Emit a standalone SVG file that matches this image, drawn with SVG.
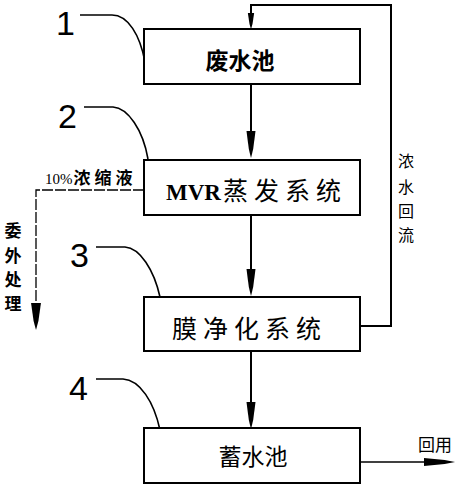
<svg xmlns="http://www.w3.org/2000/svg" width="458" height="488" viewBox="0 0 458 488">
<style>
.box{fill:#fff;stroke:#000;stroke-width:2}
.ln{fill:none;stroke:#000;stroke-width:2}
.lead{fill:none;stroke:#000;stroke-width:1.6}
.dash{fill:none;stroke:#000;stroke-width:1.3;stroke-dasharray:11 2}
.num{font-family:"Liberation Sans",Arial,sans-serif;font-size:34px;fill:#000}
.cn{font-family:"Noto Sans CJK SC","Noto Sans CJK JP",sans-serif;fill:#000}
.mvr{font-family:"Liberation Serif","Noto Sans CJK SC",serif;font-weight:bold;fill:#000}
</style>
<defs>
<path id="ah" d="M-4.5,0 L4.5,0 L2.2,18 L0,27 L-2.2,18 Z" fill="#000"/>
</defs>
<g id="connectors">
<line class="ln" x1="251" y1="84" x2="251" y2="135"/>
<use href="#ah" transform="translate(251,131)"/>
<line class="ln" x1="251" y1="215" x2="251" y2="272"/>
<use href="#ah" transform="translate(251,269)"/>
<line class="ln" x1="251" y1="351" x2="251" y2="405"/>
<use href="#ah" transform="translate(251,402)"/>
<polyline class="ln" points="360,326 391,326 391,5 251,5 251,16"/>
<use href="#ah" transform="translate(251,13) scale(0.7,0.6)"/>
<polyline class="dash" points="144,190 36,190 36,306"/>
<use href="#ah" transform="translate(36,303) scale(1.1,1)"/>
<line x1="360" y1="462" x2="426" y2="462" stroke="#000" stroke-width="1.4"/>
<use href="#ah" transform="translate(424,462) rotate(-90) scale(0.9,1.15)"/>
<text class="cn" font-size="16" text-anchor="middle" x="406" y="167">浓</text>
<text class="cn" font-size="16" text-anchor="middle" x="406" y="193">水</text>
<text class="cn" font-size="16" text-anchor="middle" x="406" y="217">回</text>
<text class="cn" font-size="16" text-anchor="middle" x="406" y="241">流</text>
<text x="45" y="184" fill="#000"><tspan font-family="Liberation Serif,serif" font-size="15">10%</tspan><tspan class="cn" font-size="17" font-weight="bold" letter-spacing="4" dx="1">浓缩液</tspan></text>
<text class="cn" font-size="17" font-weight="bold" text-anchor="middle" x="13" y="237">委</text>
<text class="cn" font-size="17" font-weight="bold" text-anchor="middle" x="13" y="262">外</text>
<text class="cn" font-size="17" font-weight="bold" text-anchor="middle" x="13" y="286">处</text>
<text class="cn" font-size="17" font-weight="bold" text-anchor="middle" x="13" y="310">理</text>
<text class="cn" font-size="17" x="418" y="451">回用</text>
</g>
<g id="label1">
<text class="num" x="56" y="35">1</text>
<path class="lead" d="M80,15 L112,15 C128,15 140,35 145,62"/>
</g>
<g id="label2">
<text class="num" x="58" y="128">2</text>
<path class="lead" d="M84,107 L113,107 C128,108 143,130 148,159"/>
</g>
<g id="label3">
<text class="num" x="70" y="267">3</text>
<path class="lead" d="M96,247 L125,247 C140,248 154,270 160,297"/>
</g>
<g id="label4">
<text class="num" x="69" y="400">4</text>
<path class="lead" d="M96,379 L123,379 C140,380 154,402 160,430"/>
</g>
<g id="n1">
<rect class="box" x="144" y="29" width="216" height="55"/>
<text class="cn" font-size="23" font-weight="bold" text-anchor="middle" x="240" y="69">废水池</text>
</g>
<g id="n2">
<rect class="box" x="144" y="160" width="216" height="55"/>
<text x="166" y="200"><tspan class="mvr" font-size="23">MVR</tspan><tspan class="cn" dx="2" font-size="25" letter-spacing="6">蒸发系统</tspan></text>
</g>
<g id="n3">
<rect class="box" x="144" y="297" width="216" height="54"/>
<text class="cn" font-size="25" letter-spacing="6" x="172" y="338">膜净化系统</text>
</g>
<g id="n4">
<rect class="box" x="144" y="428" width="216" height="55"/>
<text class="cn" font-size="23" text-anchor="middle" x="253" y="465">蓄水池</text>
</g>
</svg>
